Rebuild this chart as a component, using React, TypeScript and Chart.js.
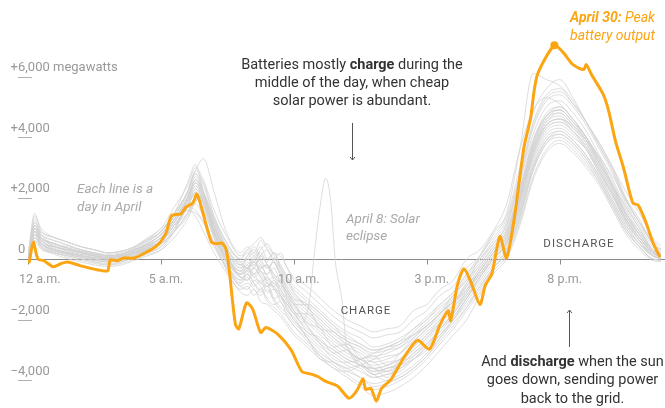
import React, { useEffect, useRef } from 'react';
import { Chart, registerables } from 'chart.js';
Chart.register(...registerables);

// Shared hour grid for the gray days
const HOURS = [0, 0.25, 0.5, 1, 1.5, 2, 2.5, 3, 3.5, 4, 4.5, 5, 5.5, 6, 6.3, 6.6, 7, 7.5, 8, 8.25, 8.5, 8.75, 9, 9.25, 9.5, 9.75, 10, 10.5, 11, 11.5, 12, 12.5, 13, 13.5, 14, 14.5, 15, 15.5, 16, 16.5, 17, 17.5, 18, 18.5, 19, 19.5, 20, 20.5, 21, 21.5, 22, 22.5, 23, 23.5, 24];

const APR_01 = [0, 1100, 700, 500, 350, 250, 150, 100, 150, 300, 500, 800, 1300, 2000, 2600, 2200, 1300, 400, -100, -300, 100, -200, -500, 0, -400, -800, -1100, -1600, -2000, -2400, -2700, -2900, -3100, -3000, -2900, -2600, -2200, -1800, -1200, -700, -200, 400, 900, 2300, 3900, 4700, 4900, 4500, 4000, 3300, 2500, 1600, 900, 300, 100];
const APR_02 = [-100, 800, 500, 300, 200, 100, 0, -100, -50, 100, 300, 500, 900, 1500, 2000, 1700, 700, -200, -700, -500, -800, -1100, -900, -1300, -1200, -1700, -1900, -2600, -3200, -3600, -3700, -3500, -3300, -3000, -2800, -2500, -2200, -1800, -1400, -1000, -500, 0, 500, 1600, 3200, 4100, 4300, 4000, 3600, 2800, 2000, 1200, 600, 100, 0];
const APR_03 = [0, 1000, 600, 400, 300, 200, 100, 0, 50, 200, 400, 700, 1200, 1900, 2400, 1900, 900, 0, -400, -100, -300, 100, -200, -600, -800, -1100, -1500, -1900, -2300, -2700, -3000, -3300, -3500, -3400, -3300, -2900, -2500, -2000, -1500, -900, -400, 200, 700, 2000, 3600, 4500, 4800, 4400, 3900, 3100, 2300, 1400, 700, 200, 50];
const APR_04 = [100, 1500, 900, 700, 550, 400, 300, 200, 250, 400, 650, 1000, 1400, 2200, 2900, 3300, 2200, 800, 200, 400, 200, 600, 300, 0, 200, -300, -700, -1100, -1500, -1900, -2200, -2400, -2600, -2500, -2400, -2000, -1700, -1200, -900, -300, 100, 800, 1400, 3000, 4800, 5600, 5900, 5300, 4500, 3800, 3000, 2000, 1300, 500, 200];
const APR_05 = [0, 700, 400, 200, 100, 0, -100, -200, -150, 0, 150, 300, 700, 1300, 1800, 1400, 500, -400, -900, -1000, -700, -900, -1300, -1500, -1400, -1900, -2200, -2700, -3100, -3400, -3600, -3900, -4100, -4000, -3800, -3500, -3100, -2600, -2100, -1600, -1000, -300, 200, 1300, 2900, 3800, 4100, 3800, 3300, 2600, 1800, 1000, 400, 0, -50];
const APR_06 = [0, 900, 500, 400, 250, 150, 100, 50, 100, 250, 450, 700, 1300, 2000, 2500, 2000, 1000, 100, -500, -300, -600, -400, -800, -900, -700, -1300, -1700, -2400, -2600, -3100, -3000, -3500, -3600, -3900, -3400, -3200, -2800, -2400, -1900, -1300, -600, 0, 600, 1900, 3500, 4400, 4600, 4300, 3800, 3000, 2200, 1300, 700, 200, 50];
const APR_07 = [-100, 600, 300, 200, 50, -50, -150, -200, -100, 50, 200, 400, 900, 1700, 1600, 1200, 500, -300, -800, -500, -800, -1000, -800, -1300, -1600, -1800, -2100, -2500, -2900, -3200, -3500, -3700, -3900, -3800, -3700, -3300, -2900, -2500, -2000, -1500, -900, -300, 300, 1400, 3000, 3900, 4200, 3900, 3400, 2700, 1900, 1100, 500, 100, 0];
const APR_09 = [0, 1100, 800, 600, 450, 300, 200, 100, 150, 300, 550, 900, 1500, 2200, 2900, 2500, 1400, 500, 0, 200, -100, 300, 500, 100, -300, -600, -900, -1300, -1700, -2100, -2400, -2600, -2900, -2800, -2600, -2300, -1900, -1500, -1100, -500, 0, 500, 1100, 2600, 4300, 5200, 5400, 5000, 4400, 3600, 2800, 1800, 1100, 400, 150];
const APR_10 = [0, 800, 600, 300, 200, 100, 50, 0, 50, 200, 400, 600, 1200, 1900, 2100, 2000, 900, -100, -600, -700, -500, -800, -600, -1000, -1300, -1500, -1800, -1800, -2200, -2600, -3000, -3400, -3800, -4000, -3900, -3600, -3200, -2600, -2000, -1300, -600, 0, 500, 1800, 3400, 4300, 4500, 4200, 3700, 2900, 2100, 1300, 600, 200, 50];
const APR_11 = [50, 1300, 800, 500, 400, 300, 200, 100, 150, 350, 600, 900, 1400, 2200, 2800, 2200, 1100, 200, -200, 100, 300, 0, -300, -100, -600, -1000, -1300, -1700, -2100, -2500, -2800, -3000, -3300, -3200, -3100, -2700, -2300, -1800, -1400, -800, 100, 900, 1800, 3600, 4900, 5300, 5100, 4600, 4000, 3200, 2400, 1700, 1000, 300, 100];
const APR_12 = [0, 700, 400, 250, 150, 50, -50, -100, -50, 100, 300, 500, 1100, 1500, 1900, 2000, 700, -400, -1000, -900, -1200, -1000, -1400, -1600, -1800, -2100, -2400, -2800, -3200, -3500, -3800, -4100, -4300, -4200, -4000, -3700, -3300, -2800, -2300, -1700, -1100, -400, 100, 1200, 2700, 3600, 3900, 3600, 3100, 2500, 1700, 900, 400, 0, -50];
const APR_13 = [0, 1000, 700, 500, 350, 200, 150, 100, 150, 300, 500, 800, 1300, 2000, 2600, 2200, 1300, 300, -200, -300, 0, 200, -200, -500, -700, -1100, -1400, -2200, -2800, -3300, -3400, -3300, -3100, -2900, -2700, -2500, -2200, -1800, -1400, -900, -300, 300, 900, 2200, 3800, 4700, 5000, 4600, 4000, 3200, 2400, 1500, 800, 300, 100];
const APR_14 = [-50, 900, 500, 300, 200, 100, 50, 0, 50, 150, 350, 600, 1100, 1700, 2200, 1800, 800, -100, -500, -400, -100, -500, -700, -600, -1000, -1300, -1600, -2000, -2400, -2800, -3100, -3300, -3600, -3500, -3300, -2900, -2500, -2100, -1600, -1100, -500, 100, 700, 2000, 3600, 4500, 4700, 4300, 3800, 3000, 2200, 1300, 700, 200, 50];
const APR_15 = [0, 1200, 900, 700, 550, 400, 300, 200, 250, 400, 700, 1000, 1700, 2400, 3000, 2600, 1600, 700, 100, 300, 500, 700, 400, 200, 100, -300, -600, -900, -1300, -1700, -2000, -2200, -2400, -2300, -2200, -1700, -1500, -1000, -700, 0, 300, 900, 1500, 3600, 6100, 5900, 5700, 5200, 4500, 3800, 3000, 2200, 1500, 700, 300];
const APR_16 = [0, 600, 350, 150, 0, -100, -200, -250, -200, -50, 100, 300, 900, 1600, 1400, 900, 200, -500, -1100, -1200, -1000, -1400, -1500, -1700, -1900, -2200, -2500, -2900, -3300, -3600, -3900, -4200, -4500, -4400, -4200, -3900, -3500, -3000, -2500, -2000, -1200, -500, 0, 1100, 2600, 3500, 3800, 3500, 3000, 2400, 1600, 800, 300, -50, -100];
const APR_17 = [0, 1000, 600, 400, 300, 200, 100, 50, 100, 250, 450, 700, 1300, 1900, 2500, 2100, 1100, 100, -400, -200, -500, -300, -200, -700, -900, -1200, -1500, -1500, -1800, -2200, -2700, -3200, -3600, -3700, -3600, -3300, -2900, -2300, -1800, -1100, -400, 200, 800, 2100, 3700, 4600, 4900, 4500, 3900, 3100, 2300, 1400, 800, 200, 50];
const APR_18 = [0, 900, 700, 400, 250, 150, 100, 50, 100, 200, 450, 700, 1200, 1800, 2300, 1900, 900, 0, -600, -700, -300, -600, -900, -800, -1100, -1400, -1700, -2200, -2700, -3000, -3300, -3500, -3800, -3600, -3500, -3100, -2800, -2300, -1800, -1200, -600, 0, 500, 1700, 3300, 4200, 4400, 4100, 3600, 2900, 2100, 1200, 600, 150, 0];
const APR_19 = [100, 1400, 1000, 700, 550, 400, 300, 200, 250, 400, 650, 900, 1500, 2500, 3100, 2200, 1100, 300, -100, 100, 400, 100, -100, 200, -300, -700, -1000, -1400, -1800, -2200, -2500, -2800, -3000, -2900, -2800, -2400, -2000, -1600, -1200, -600, 0, 600, 1200, 2700, 4400, 5300, 5500, 5100, 4500, 3700, 2900, 1900, 1200, 500, 200];
const APR_20 = [0, 800, 500, 300, 150, 50, -50, -100, -50, 100, 300, 500, 900, 1500, 2000, 1600, 700, -200, -800, -600, -900, -700, -1100, -1000, -1400, -1700, -2000, -2600, -3300, -3400, -3600, -3500, -3700, -3600, -3500, -3300, -3000, -2500, -2000, -1400, -800, -200, 300, 1500, 3000, 3900, 4100, 3800, 3300, 2600, 1800, 1000, 500, 100, 0];
const APR_21 = [0, 1100, 700, 500, 350, 250, 150, 100, 150, 300, 500, 800, 1300, 2000, 2600, 2100, 1100, 200, -300, 0, -200, 100, 300, -100, -500, -900, -1200, -1600, -2000, -2400, -2700, -2900, -3200, -3100, -2900, -2500, -2100, -1700, -1200, -700, -100, 500, 1100, 2500, 4100, 5000, 5200, 4800, 4200, 3400, 2600, 1700, 1000, 300, 100];
const APR_22 = [0, 700, 400, 200, 100, 0, -100, -150, -100, 50, 200, 400, 1000, 1600, 1500, 1200, 400, -300, -900, -800, -1000, -1200, -1000, -1400, -1700, -1900, -2200, -2600, -3000, -3400, -3700, -3900, -4200, -4100, -3900, -3600, -3200, -2700, -2200, -1600, -900, -300, 200, 1400, 2900, 3800, 4000, 3700, 3200, 2500, 1700, 900, 400, 0, -50];
const APR_23 = [0, 1000, 600, 400, 300, 200, 100, 50, 100, 200, 400, 700, 1200, 1900, 2400, 2000, 1000, 100, -400, -300, -100, -400, -500, -300, -800, -1200, -1500, -2100, -2300, -2900, -2800, -3300, -3400, -3700, -3300, -2800, -2400, -2000, -1500, -1000, -400, 200, 800, 2100, 3700, 4600, 4800, 4400, 3900, 3100, 2300, 1400, 800, 250, 50];
const APR_24 = [0, 900, 600, 350, 200, 100, 50, 0, 50, 200, 350, 600, 1100, 1700, 2200, 1800, 900, 0, -500, -300, -500, -200, -600, -800, -1000, -1400, -1700, -2100, -2500, -2900, -3200, -3400, -3700, -3600, -3400, -3000, -2600, -2100, -1700, -1100, -500, 100, 600, 1900, 3500, 4400, 4600, 4200, 3700, 2900, 2100, 1300, 700, 200, 50];
const APR_25 = [50, 1200, 800, 600, 450, 300, 200, 150, 200, 350, 600, 900, 1500, 2200, 2800, 2400, 1400, 500, 0, 300, 100, 400, 0, 200, -200, -600, -1100, -1500, -1900, -2300, -2600, -2800, -3000, -2900, -2700, -2300, -2000, -1500, -1100, -500, 100, 700, 1300, 2800, 4500, 5400, 5600, 5100, 4500, 3700, 2900, 1900, 1200, 500, 200];
const APR_26 = [0, 700, 450, 250, 150, 50, 0, -50, 0, 150, 300, 500, 900, 1400, 1900, 2100, 900, -200, -700, -400, -600, -800, -900, -700, -1200, -1600, -2000, -2400, -2800, -3100, -3400, -3600, -3900, -3800, -3600, -3200, -2800, -2300, -1900, -1300, -700, -100, 400, 1600, 3100, 4000, 4200, 3900, 3400, 2700, 1900, 1100, 500, 100, 0];
const APR_27 = [0, 1000, 650, 450, 300, 200, 100, 50, 100, 250, 500, 800, 1300, 2000, 2500, 2100, 1200, 300, -200, 0, 200, -100, -300, -100, -500, -1000, -1300, -1500, -2300, -2400, -2900, -3300, -3200, -3500, -3100, -2600, -2200, -1800, -1300, -800, -200, 400, 1000, 2300, 3900, 4800, 5000, 4600, 4000, 3300, 2400, 1500, 900, 300, 100];
const APR_28 = [0, 800, 500, 300, 200, 100, 0, -50, 0, 150, 350, 600, 1000, 1700, 2200, 1800, 800, -100, -600, -500, -300, -600, -800, -900, -1200, -1500, -1800, -2300, -2700, -3000, -3300, -3500, -3800, -3700, -3500, -3100, -2700, -2200, -1800, -1200, -600, 0, 500, 1800, 3400, 4300, 4500, 4200, 3600, 2800, 2100, 1200, 600, 100, 0];
const APR_29 = [0, 1100, 700, 500, 350, 250, 150, 100, 150, 300, 500, 800, 1400, 2100, 2700, 2200, 1200, 200, -300, -200, 0, -300, -200, -500, -800, -1100, -1400, -1800, -2200, -2600, -2900, -3100, -3400, -3300, -3100, -2700, -2300, -1900, -1400, -900, -300, 300, 900, 2200, 3800, 4700, 4900, 4500, 4000, 3200, 2400, 1500, 800, 250, 50];

const GRAY_DAYS = [APR_01, APR_02, APR_03, APR_04, APR_05, APR_06, APR_07, APR_09, APR_10, APR_11, APR_12, APR_13, APR_14, APR_15, APR_16, APR_17, APR_18, APR_19, APR_20, APR_21, APR_22, APR_23, APR_24, APR_25, APR_26, APR_27, APR_28, APR_29];

// April 8: solar eclipse
const ECLIPSE_HOURS = [0, 0.25, 0.5, 1, 2, 3, 4, 5, 5.5, 6, 6.3, 6.6, 7, 7.5, 8, 8.5, 9, 9.5, 10, 10.3, 10.6, 10.75, 11, 11.2, 11.4, 11.55, 11.8, 12, 13, 14, 15, 16, 17, 17.5, 18, 18.5, 19, 19.5, 20, 21, 22, 23, 24];
const ECLIPSE_MW = [0, 900, 500, 300, 100, 0, 200, 600, 1100, 1800, 2300, 1900, 900, 0, -500, -200, -700, -1200, -1800, -2100, -1300, 0, 1800, 2650, 1800, 0, -1300, -2900, -3600, -3300, -2600, -1600, -400, 200, 700, 2000, 3600, 4400, 4600, 3900, 2700, 1200, 100];

// April 30: peak battery output
const ORANGE_HOURS = [0.05, 0.2, 0.37, 0.6, 0.95, 1.25, 1.5, 1.95, 2.4, 2.8, 3.0, 3.1, 3.35, 3.6, 4.0, 4.45, 4.8, 5.0, 5.2, 5.4, 5.75, 5.95, 6.2, 6.35, 6.55, 6.9, 7.1, 7.3, 7.45, 7.55, 7.8, 7.93, 8.22, 8.45, 8.75, 8.95, 9.4, 9.9, 10.3, 10.65, 10.9, 11.2, 11.65, 12.05, 12.2, 12.4, 12.6, 12.7, 12.9, 13.1, 13.3, 13.65, 14.15, 14.65, 15.1, 15.5, 15.8, 15.9, 16.15, 16.4, 16.65, 17.0, 17.2, 17.45, 17.75, 18.0, 18.3, 18.65, 18.9, 19.15, 19.8, 20.15, 20.5, 20.9, 21.0, 21.2, 21.65, 21.85, 22.1, 22.4, 22.75, 22.95, 23.25, 23.5, 23.75];
const ORANGE_MW = [-100, 550, 0, -60, -260, -150, -100, -220, -320, -390, -390, -30, -60, 30, 30, 220, 400, 580, 870, 1420, 1480, 1710, 1840, 2130, 1610, 550, 500, 520, 320, -220, -2150, -2300, -1450, -1650, -2420, -2260, -2480, -3000, -3700, -3790, -3870, -4030, -4190, -4580, -4520, -4290, -3940, -4290, -4260, -4680, -4260, -3970, -3230, -2680, -2970, -2160, -1710, -2030, -870, -320, -740, -1500, -870, -480, 740, 30, 1390, 3650, 4610, 6030, 7030, 6770, 6390, 6230, 6390, 6060, 5390, 4840, 3870, 3000, 1840, 1770, 1190, 550, 100];

const TICK_HOURS = [0, 5, 10, 15, 20];
const TICK_LABELS = ['12 a.m.', '5 a.m.', '10 a.m.', '3 p.m.', '8 p.m.'];
const Y_TICKS = [6000, 4000, 2000, 0, -2000, -4000];
const Y_LABELS = ['+6,000', '+4,000', '+2,000', '0', '\u22122,000', '\u22124,000'];

const FONT = 'Roboto, "Liberation Sans", sans-serif';
const ORANGE = '#fca512';
const GRAY_LINE = 'rgba(210,210,210,0.75)';

type Run = { t: string; b?: boolean };

function drawRuns(ctx: CanvasRenderingContext2D, runs: Run[], x: number, y: number, size: number, color: string, italic: boolean, align: 'left' | 'center' | 'right') {
  const fontFor = (b?: boolean) => `${italic ? 'italic ' : ''}${b ? '700 ' : '400 '}${size}px ${FONT}`;
  let total = 0;
  const widths = runs.map((r) => { ctx.font = fontFor(r.b); const w = ctx.measureText(r.t).width; total += w; return w; });
  let cx = align === 'left' ? x : align === 'center' ? x - total / 2 : x - total;
  ctx.fillStyle = color;
  ctx.textAlign = 'left';
  ctx.textBaseline = 'middle';
  runs.forEach((r, i) => { ctx.font = fontFor(r.b); ctx.fillText(r.t, cx, y); cx += widths[i]; });
}

function arrow(ctx: CanvasRenderingContext2D, x: number, y1: number, y2: number, headAtEnd: boolean) {
  ctx.strokeStyle = '#555';
  ctx.lineWidth = 1;
  ctx.beginPath();
  ctx.moveTo(x + 0.5, y1);
  ctx.lineTo(x + 0.5, y2);
  ctx.stroke();
  const hy = headAtEnd ? y2 : y1;
  const d = headAtEnd ? -3 : 3;
  ctx.beginPath();
  ctx.moveTo(x + 0.5 - 2.5, hy + d);
  ctx.lineTo(x + 0.5, hy);
  ctx.lineTo(x + 0.5 + 2.5, hy + d);
  ctx.stroke();
}

const overlay = {
  id: 'overlay',
  beforeDatasetsDraw(chart: any) {
    const { ctx, scales } = chart;
    const x = scales.x, y = scales.y;
    ctx.save();
    const y0 = Math.round(y.getPixelForValue(0)) + 0.5;
    ctx.lineWidth = 1;
    ctx.strokeStyle = '#8a8a8a';
    ctx.beginPath();
    ctx.moveTo(18, y0);
    ctx.lineTo(chart.width, y0);
    ctx.stroke();
    ctx.strokeStyle = '#b0b0b0';
    Y_TICKS.forEach((v) => {
      if (v === 0) return;
      const py = Math.round(y.getPixelForValue(v)) + 0.5;
      ctx.beginPath();
      ctx.moveTo(18, py);
      ctx.lineTo(32, py);
      ctx.stroke();
    });
    ctx.strokeStyle = '#8a8a8a';
    TICK_HOURS.forEach((h) => {
      const px = Math.round(x.getPixelForValue(h)) + 0.5;
      ctx.beginPath();
      ctx.moveTo(px, y0);
      ctx.lineTo(px, y0 + 5);
      ctx.stroke();
    });
    ctx.restore();
  },
  afterDatasetsDraw(chart: any) {
    const { ctx, scales } = chart;
    const x = scales.x, y = scales.y;
    ctx.save();
    Y_TICKS.forEach((v, i) => {
      const py = y.getPixelForValue(v) - 9;
      const lab = Y_LABELS[i];
      ctx.font = `400 13px ${FONT}`;
      ctx.fillStyle = '#999';
      ctx.textBaseline = 'middle';
      if (lab === '0') {
        ctx.textAlign = 'left';
        ctx.fillText(lab, 18, py);
      } else {
        ctx.textAlign = 'right';
        ctx.fillText(lab[0], 18, py);
        ctx.textAlign = 'left';
        ctx.fillText(lab.slice(1) + (i === 0 ? ' megawatts' : ''), 18, py);
      }
    });
    TICK_HOURS.forEach((h, i) => {
      const px = x.getPixelForValue(h);
      ctx.font = `400 12.5px ${FONT}`;
      ctx.fillStyle = '#999';
      ctx.textBaseline = 'middle';
      if (i === 0) {
        ctx.textAlign = 'left';
        ctx.fillText(TICK_LABELS[i], 19, 280);
      } else {
        ctx.textAlign = 'center';
        ctx.fillText(TICK_LABELS[i], px + 5, 280);
      }
    });
    drawRuns(ctx, [{ t: 'Batteries mostly ' }, { t: 'charge', b: true }, { t: ' during the' }], 352, 65, 14.5, '#333', false, 'center');
    drawRuns(ctx, [{ t: 'middle of the day, when cheap' }], 352, 83, 14.5, '#333', false, 'center');
    drawRuns(ctx, [{ t: 'solar power is abundant.' }], 352, 101, 14.5, '#333', false, 'center');
    arrow(ctx, 352, 123, 160, true);

    drawRuns(ctx, [{ t: 'Each line is a' }], 77, 190, 13.5, '#a9a9a9', true, 'left');
    drawRuns(ctx, [{ t: 'day in April' }], 77, 208, 13.5, '#a9a9a9', true, 'left');
    drawRuns(ctx, [{ t: 'April 8: Solar' }], 346, 220, 13.5, '#a9a9a9', true, 'left');
    drawRuns(ctx, [{ t: 'eclipse' }], 346, 237, 13.5, '#a9a9a9', true, 'left');

    ctx.font = `400 11.5px ${FONT}`;
    (ctx as any).letterSpacing = '1px';
    ctx.fillStyle = '#555';
    ctx.textAlign = 'center';
    ctx.textBaseline = 'middle';
    ctx.fillText('CHARGE', 366, 311);
    ctx.fillText('DISCHARGE', 579, 244);
    (ctx as any).letterSpacing = '0px';

    drawRuns(ctx, [{ t: 'And ' }, { t: 'discharge', b: true }, { t: ' when the sun' }], 572.5, 362, 14.5, '#333', false, 'center');
    drawRuns(ctx, [{ t: 'goes down, sending power' }], 572.5, 380, 14.5, '#333', false, 'center');
    drawRuns(ctx, [{ t: 'back to the grid.' }], 572.5, 399, 14.5, '#333', false, 'center');
    arrow(ctx, 569, 310, 347, false);

    drawRuns(ctx, [{ t: 'April 30:', b: true }, { t: ' Peak' }], 655, 18, 14, ORANGE, true, 'right');
    drawRuns(ctx, [{ t: 'battery output' }], 655, 36, 14, ORANGE, true, 'right');
    ctx.restore();
  },
};

export default function App() {
  const ref = useRef<HTMLCanvasElement | null>(null);
  useEffect(() => {
    if (!ref.current) return;
    const grayDatasets = GRAY_DAYS.map((vals) => ({
      data: HOURS.map((h, i) => ({ x: h, y: vals[i] })),
      borderColor: GRAY_LINE,
      borderWidth: 1,
      pointRadius: 0,
      cubicInterpolationMode: 'monotone' as const,
      order: 2,
    }));
    const eclipse = {
      data: ECLIPSE_HOURS.map((h, i) => ({ x: h, y: ECLIPSE_MW[i] })),
      borderColor: GRAY_LINE,
      borderWidth: 1,
      pointRadius: 0,
      cubicInterpolationMode: 'monotone' as const,
      order: 2,
    };
    const peakIdx = ORANGE_MW.indexOf(Math.max(...ORANGE_MW));
    const chart = new Chart(ref.current, {
      type: 'line',
      data: {
        datasets: [
          {
            data: [{ x: ORANGE_HOURS[peakIdx], y: ORANGE_MW[peakIdx] }],
            borderColor: ORANGE,
            backgroundColor: ORANGE,
            pointRadius: 4,
            pointBorderWidth: 0,
            showLine: false,
            order: 0,
          } as any,
          {
            data: ORANGE_HOURS.map((h, i) => ({ x: h, y: ORANGE_MW[i] })),
            borderColor: ORANGE,
            borderWidth: 3,
            pointRadius: 0,
            tension: 0.25,
            borderJoinStyle: 'round',
            borderCapStyle: 'round',
            order: 1,
          } as any,
          eclipse as any,
          ...(grayDatasets as any[]),
        ],
      },
      options: {
        responsive: false,
        animation: false,
        devicePixelRatio: 1,
        layout: { padding: { left: 28, right: 0, top: 0, bottom: 0 } },
        plugins: { legend: { display: false }, tooltip: { enabled: false } },
        events: [],
        scales: {
          x: { type: 'linear', min: 0, max: 23.81, display: false },
          y: { type: 'linear', min: -4774, max: 8387, display: false },
        },
      },
      plugins: [overlay as any],
    });
    return () => chart.destroy();
  }, []);
  return (
    <div style={{ position: 'fixed', left: 0, top: 0, width: 665, height: 408, background: '#fff', overflow: 'hidden' }}>
      <canvas ref={ref} width={665} height={408} style={{ display: 'block' }} />
    </div>
  );
}
